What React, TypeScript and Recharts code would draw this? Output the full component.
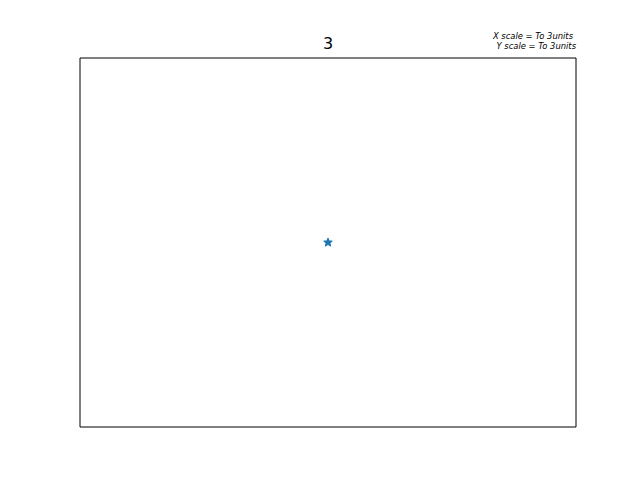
import { ScatterChart, Scatter, XAxis, YAxis, ReferenceArea } from 'recharts';

const title = '3';
const noteLines = ['X scale = To 3units', 'Y scale = To 3units'];
const points = [{ x: 0, y: 0 }];
const xDomain: [number, number] = [-1, 1];
const yDomain: [number, number] = [-1, 1];

// small five-pointed star, like a matplotlib '*' marker
const StarMark = (props: any) => {
    const { cx, cy } = props;
    const pts: string[] = [];
    for (let i = 0; i < 10; i++) {
        const r = i % 2 === 0 ? 4.5 : 2;
        const a = -Math.PI / 2 + (i * Math.PI) / 5;
        pts.push(`${cx + r * Math.cos(a)},${cy + r * Math.sin(a)}`);
    }
    return <polygon points={pts.join(' ')} fill="#1f77b4" stroke="#1f77b4" strokeWidth={1} />;
};

export default function App() {
    return (
        <div style={{ position: 'absolute', left: 0, top: 0, width: 640, height: 480, background: '#fff', fontFamily: 'DejaVu Sans' }}>
            <div style={{ position: 'absolute', left: 0, width: 656, top: 34, textAlign: 'center', fontSize: 16, lineHeight: '20px', color: '#000' }}>
                {title}
            </div>
            <div style={{ position: 'absolute', right: 64, top: 31, textAlign: 'right', fontSize: 8.4, lineHeight: '10px', fontStyle: 'italic', color: '#000' }}>
                <div style={{ paddingRight: 3 }}>{noteLines[0]}</div>
                <div>{noteLines[1]}</div>
            </div>
            <ScatterChart width={640} height={480} margin={{ top: 58, right: 64, bottom: 53, left: 80 }}>
                <XAxis type="number" dataKey="x" domain={xDomain} hide />
                <YAxis type="number" dataKey="y" domain={yDomain} hide />
                <ReferenceArea x1={-1} x2={1} y1={-1} y2={1} fill="none" stroke="#000" strokeWidth={1} ifOverflow="visible" />
                <Scatter data={points} fill="#1f77b4" shape={<StarMark />} isAnimationActive={false} />
            </ScatterChart>
        </div>
    );
}
